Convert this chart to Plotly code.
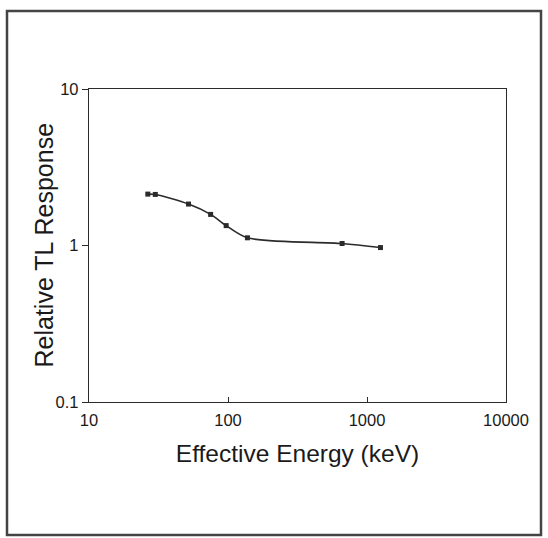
import plotly.graph_objects as go

# Data (Effective energy in keV vs relative TL response)
energy_kev = [26.5, 30, 52, 75, 97, 138, 662, 1250]
tl_response = [2.13, 2.12, 1.84, 1.58, 1.34, 1.12, 1.03, 0.97]

x_ticks = [10, 100, 1000, 10000]
x_tick_text = ["10", "100", "1000", "10000"]
y_ticks = [0.1, 1, 10]
y_tick_text = ["0.1", "1", "10"]

ink = "#2b2b2b"
font_family = "Liberation Sans, Arial, sans-serif"

fig = go.Figure()
fig.add_trace(go.Scatter(
    x=energy_kev, y=tl_response,
    mode="lines+markers",
    line=dict(color=ink, width=1.6, shape="spline", smoothing=0.8),
    marker=dict(symbol="square", size=5, color=ink),
    showlegend=False,
))

axis_common = dict(
    showgrid=False, zeroline=False, showline=True, linecolor=ink, linewidth=1.3,
    mirror=True, tickcolor=ink, tickwidth=1.3,
    tickfont=dict(family=font_family, size=16.5, color="#1a1a1a"),
)

fig.update_xaxes(
    type="log", range=[1, 4], tickvals=x_ticks, ticktext=x_tick_text,
    ticks="inside", ticklen=5, ticklabelstandoff=3,
    title=dict(text="Effective Energy (keV)", standoff=16,
               font=dict(family=font_family, size=24.5, color="#1a1a1a")),
    **axis_common,
)
fig.update_yaxes(
    type="log", range=[-1, 1], tickvals=y_ticks, ticktext=y_tick_text,
    ticks="outside", ticklen=6,
    **axis_common,
)

# y-axis title placed as an annotation for exact position
fig.add_annotation(
    text="Relative TL Response", textangle=-90,
    xref="paper", yref="paper", x=(43 - 89) / 417, y=0.5,
    xanchor="center", yanchor="middle", showarrow=False,
    font=dict(family=font_family, size=25, color="#1a1a1a"),
)

# outer frame around the figure (as in the scanned page)
fig.add_shape(type="rect", xref="paper", yref="paper",
              x0=(7 - 89) / 417, x1=(541 - 89) / 417,
              y0=(402 - 535) / 313, y1=(402 - 11) / 313,
              line=dict(color="#444444", width=2.5), layer="above")

fig.update_layout(
    width=548, height=538,
    margin=dict(l=89, r=42, t=89, b=136),
    paper_bgcolor="white", plot_bgcolor="white",
    font=dict(family=font_family, color="#1a1a1a"),
)

fig.write_html("out.html")
